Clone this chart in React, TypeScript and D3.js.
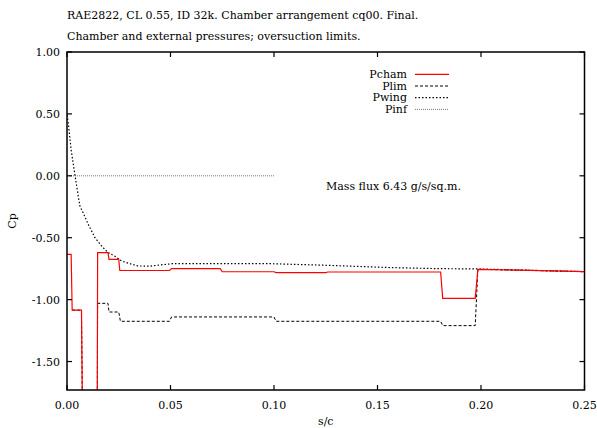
import React from 'react';
import * as d3 from 'd3';

// [s/c, Cp]
const pcham: [number, number][] = [
  [0, -0.635], [0.002, -0.635], [0.0025, -1.085], [0.007, -1.085], [0.0078, -2.5],
  [0.0145, -2.5], [0.0148, -0.62], [0.0198, -0.62], [0.0203, -0.675], [0.025, -0.675],
  [0.0255, -0.765], [0.0495, -0.765], [0.0505, -0.75], [0.074, -0.75], [0.075, -0.775],
  [0.1, -0.775], [0.101, -0.782], [0.125, -0.782], [0.126, -0.777], [0.1805, -0.777],
  [0.1815, -0.99], [0.1972, -0.99], [0.1985, -0.755], [0.25, -0.774],
];
const plim: [number, number][] = [
  [0.0025, -1.085], [0.007, -1.085], [0.0078, -2.5], [0.0145, -2.5], [0.0148, -1.03],
  [0.0198, -1.03], [0.0203, -1.1], [0.025, -1.1], [0.0258, -1.175], [0.0495, -1.175],
  [0.0505, -1.14], [0.1, -1.14], [0.101, -1.175], [0.1805, -1.175], [0.1815, -1.21],
  [0.1972, -1.21], [0.1985, -0.755], [0.25, -0.774],
];
const pwing: [number, number][] = [
  [0, 0.49], [0.0006, 0.43], [0.002, 0.21], [0.0039, 0.0], [0.0053, -0.15], [0.0063, -0.25],
  [0.0073, -0.28], [0.0102, -0.39], [0.0135, -0.5], [0.0169, -0.57], [0.0198, -0.62],
  [0.0232, -0.65], [0.0266, -0.69], [0.0305, -0.71], [0.0343, -0.728], [0.0401, -0.73],
  [0.045, -0.72], [0.0508, -0.71], [0.099, -0.71], [0.1257, -0.723], [0.1576, -0.742],
  [0.1804, -0.75], [0.198, -0.752], [0.25, -0.774],
];
const pinf: [number, number][] = [[0, 0], [0.1, 0]];

const xTicks = [0, 0.05, 0.1, 0.15, 0.2, 0.25];
const yTicks = [1, 0.5, 0, -0.5, -1, -1.5];
const titleLines = [
  'RAE2822, CL 0.55, ID 32k. Chamber arrangement cq00. Final.',
  'Chamber and external pressures; oversuction limits.',
];
const legendItems = [
  { name: 'Pcham', stroke: '#ff0000', dash: '', width: 1.2 },
  { name: 'Plim', stroke: '#000', dash: '3,2', width: 1 },
  { name: 'Pwing', stroke: '#000', dash: '1.5,2', width: 1.2 },
  { name: 'Pinf', stroke: '#777', dash: '1,1', width: 1 },
];

const W = 597, H = 428;
const left = 67, right = 584.5, top = 52, bottom = 390;
const font = '"DejaVu Serif", serif';

export default function App() {
  const x = d3.scaleLinear().domain([0, 0.25]).range([left, right]);
  const y = d3.scaleLinear().domain([-1.73, 1]).range([bottom, top]);
  const line = d3.line<[number, number]>().x(d => x(d[0])).y(d => y(d[1]));
  const series = [pcham, plim, pwing, pinf];

  return (
    <div style={{ position: 'absolute', left: 0, top: 0 }}>
      <svg width={W} height={H} style={{ display: 'block', background: '#fff' }} fontFamily={font}>
        <defs>
          <clipPath id="plot">
            <rect x={left} y={top} width={right - left} height={bottom - top} />
          </clipPath>
        </defs>
        {titleLines.map((t, i) => (
          <text key={i} x={67} y={19 + i * 21} fontSize={11} fill="#000">{t}</text>
        ))}
        <g clipPath="url(#plot)">
          {series.slice().reverse().map((d, i) => {
            const s = legendItems[3 - i];
            return (
              <path key={s.name} d={line(d) ?? ''} fill="none" stroke={s.stroke}
                strokeWidth={s.width} strokeDasharray={s.dash || undefined} />
            );
          })}
        </g>
        <rect x={left} y={top} width={right - left} height={bottom - top}
          fill="none" stroke="#000" strokeWidth={1.5} />
        {xTicks.map(t => (
          <g key={t}>
            <line x1={x(t)} x2={x(t)} y1={bottom} y2={bottom - 5} stroke="#000" strokeWidth={1.2} />
            <line x1={x(t)} x2={x(t)} y1={top} y2={top + 5} stroke="#000" strokeWidth={1.2} />
            <text x={x(t)} y={409} fontSize={11} textAnchor="middle">{t.toFixed(2)}</text>
          </g>
        ))}
        {yTicks.map(t => (
          <g key={t}>
            <line x1={left} x2={left + 5} y1={y(t)} y2={y(t)} stroke="#000" strokeWidth={1.2} />
            <line x1={right} x2={right - 5} y1={y(t)} y2={y(t)} stroke="#000" strokeWidth={1.2} />
            <text x={60} y={y(t) + 4} fontSize={11} textAnchor="end">{t.toFixed(2)}</text>
          </g>
        ))}
        <text x={(left + right) / 2} y={425} fontSize={11} textAnchor="middle">s/c</text>
        <text transform={`translate(16,${(top + bottom) / 2}) rotate(-90)`} fontSize={11} textAnchor="middle">Cp</text>
        {legendItems.map((s, i) => (
          <g key={s.name}>
            <text x={407} y={78 + i * 11.7} fontSize={11} textAnchor="end">{s.name}</text>
            <line x1={415} x2={449} y1={74.3 + i * 11.7} y2={74.3 + i * 11.7} stroke={s.stroke}
              strokeWidth={s.width} strokeDasharray={s.dash || undefined} />
          </g>
        ))}
        <text x={326} y={190} fontSize={11}>Mass flux 6.43 g/s/sq.m.</text>
      </svg>
    </div>
  );
}
